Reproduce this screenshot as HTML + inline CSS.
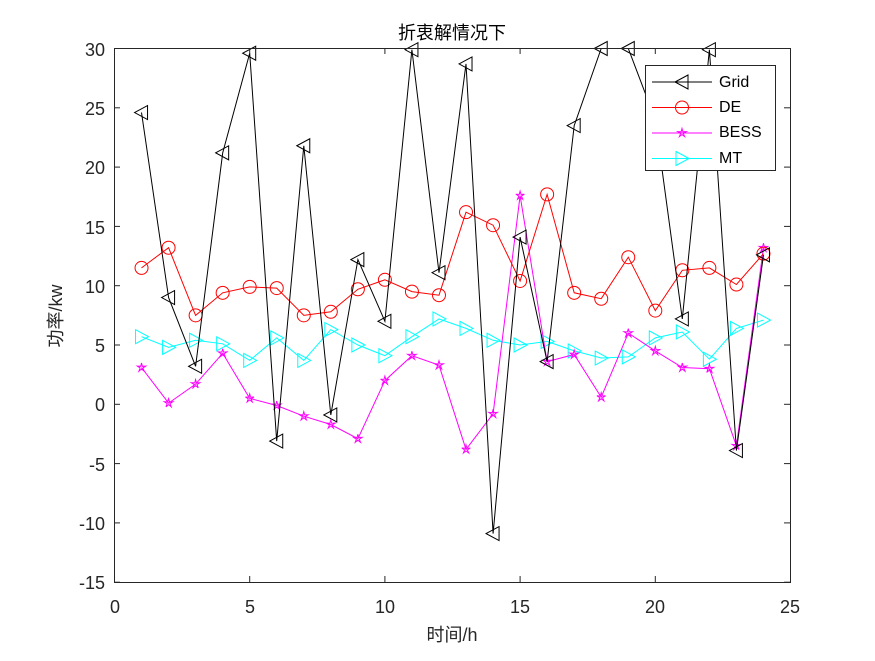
<!DOCTYPE html>
<html><head><meta charset="utf-8"><style>
html,body{margin:0;padding:0;background:#fff;}
svg text{font-family:"Liberation Sans","Noto Sans CJK SC",sans-serif;}
</style></head><body>
<svg id="s" width="875" height="656" xmlns="http://www.w3.org/2000/svg">
<rect width="875" height="656" fill="#fff"/>
<g id="plot"></g>
<rect x="114.5" y="48.5" width="676" height="534" fill="none" stroke="#262626" stroke-width="1"/>
<g id="ticks" stroke="#262626"></g>
<g font-size="18" fill="#262626" text-anchor="middle">
<text x="115" y="613">0</text><text x="250" y="613">5</text><text x="385" y="613">10</text><text x="520" y="613">15</text><text x="655" y="613">20</text><text x="790" y="613">25</text>
</g>
<g font-size="18" fill="#262626" text-anchor="end">
<text x="105" y="56">30</text><text x="105" y="115">25</text><text x="105" y="174">20</text><text x="105" y="234">15</text><text x="105" y="293">10</text><text x="105" y="352">5</text><text x="105" y="411">0</text><text x="105" y="471">-5</text><text x="105" y="530">-10</text><text x="105" y="589">-15</text>
</g>
<text x="452" y="39" font-size="18" text-anchor="middle" fill="#000">折衷解情况下</text>
<text x="452" y="641" font-size="18" text-anchor="middle" fill="#262626">时间/h</text>
<text transform="translate(62,316) rotate(-90)" font-size="18" text-anchor="middle" fill="#262626">功率/kw</text>
<g id="legend">
<rect x="645.5" y="65.5" width="130" height="105" fill="#fff" stroke="#262626"/>
<g font-size="16" fill="#000">
<text x="719" y="87">Grid</text><text x="719" y="112">DE</text><text x="719" y="137">BESS</text><text x="719" y="163">MT</text>
</g>
</g>
</svg>
<script>
var X=function(v){return 114.5+v*27.04;},Y=function(v){return 404.3-v*11.86;};
var grid=[24.6,9.0,3.2,21.2,29.6,-3.1,21.8,-0.9,12.2,7.0,29.9,11.1,28.7,-10.9,14.1,3.6,23.5,30,30,24,7.2,29.9,-3.9,12.6];
var de=[11.5,13.2,7.5,9.4,9.9,9.8,7.5,7.8,9.7,10.5,9.5,9.2,16.2,15.1,10.4,17.7,9.4,8.9,12.4,7.9,11.3,11.5,10.1,12.7];
var bess=[3.1,0.1,1.7,4.3,0.5,-0.1,-1.0,-1.7,-2.9,2.0,4.1,3.3,-3.8,-0.8,17.6,3.6,4.2,0.6,6.0,4.5,3.1,3.0,-3.5,13.2];
var mt=[5.7,4.8,5.4,5.1,3.7,5.6,3.7,6.3,5.0,4.1,5.7,7.2,6.4,5.4,5.0,5.3,4.5,3.9,4.0,5.6,6.1,3.8,6.4,7.1];
function mk(t,x,y,c){
 if(t=='L')return '<polygon points="'+(x-7)+','+y+' '+(x+6)+','+(y-7)+' '+(x+6)+','+(y+7)+'" fill="none" stroke="'+c+'"/>';
 if(t=='R')return '<polygon points="'+(x+7)+','+y+' '+(x-6)+','+(y-7)+' '+(x-6)+','+(y+7)+'" fill="none" stroke="'+c+'"/>';
 if(t=='O')return '<circle cx="'+x+'" cy="'+y+'" r="6.5" fill="none" stroke="'+c+'"/>';
 var p=[];for(var i=0;i<10;i++){var r=i%2?1.5:4.5,a=-Math.PI/2+i*Math.PI/5;p.push((x+r*Math.cos(a)).toFixed(1)+','+(y+r*Math.sin(a)).toFixed(1));}
 return '<polygon points="'+p.join(' ')+'" fill="none" stroke="'+c+'"/>';
}
function series(d,c,t){var pts=d.map(function(v,i){return X(i+1).toFixed(1)+','+Y(v).toFixed(1)});
 var s='<polyline points="'+pts.join(' ')+'" fill="none" stroke="'+c+'" stroke-width="1"/>';
 d.forEach(function(v,i){s+=mk(t,X(i+1),Y(v),c)});return s;}
var h=series(mt,'#00ffff','R')+series(bess,'#ff00ff','S')+series(de,'#ff0000','O')+series(grid,'#000','L');
document.getElementById('plot').innerHTML=h;
var tk='';
for(var i=0;i<=5;i++){var x=X(i*5);tk+='<line x1="'+x+'" y1="582" x2="'+x+'" y2="576"/><line x1="'+x+'" y1="48" x2="'+x+'" y2="54"/>';}
for(var v=-15;v<=30;v+=5){var y=Y(v);tk+='<line x1="114" y1="'+y+'" x2="120" y2="'+y+'"/><line x1="790" y1="'+y+'" x2="784" y2="'+y+'"/>';}
document.getElementById('ticks').innerHTML=tk;
var lg='';var items=[['#000','L'],['#ff0000','O'],['#ff00ff','S'],['#00ffff','R']];
items.forEach(function(it,i){var y=82+i*25.5;lg+='<line x1="652" y1="'+y+'" x2="712" y2="'+y+'" stroke="'+it[0]+'"/>'+mk(it[1],682,y,it[0]);});
document.getElementById('legend').insertAdjacentHTML('beforeend',lg);
</script>
</body></html>
